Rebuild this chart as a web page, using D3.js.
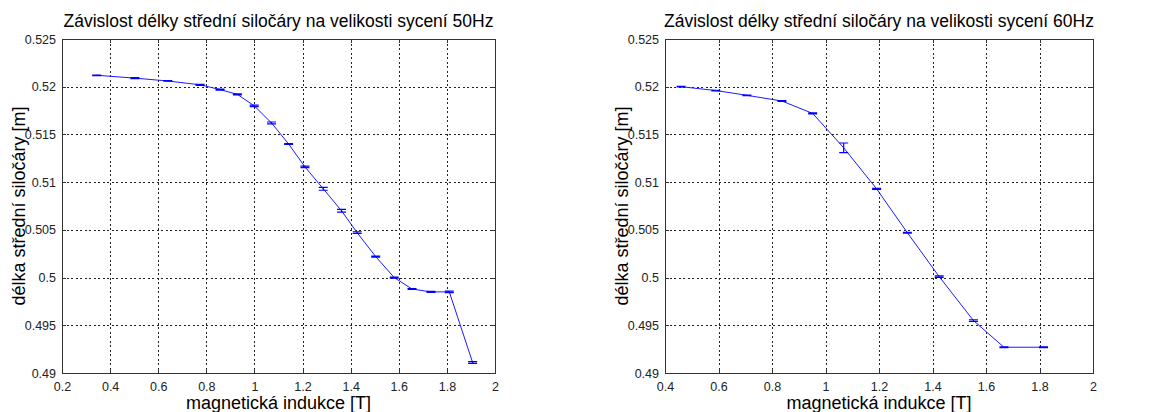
<!DOCTYPE html>
<html>
<head>
<meta charset="utf-8">
<script src="https://cdn.jsdelivr.net/npm/d3@7"></script>
<style>
  body { margin: 0; background: #fff; }
  svg { display: block; }
</style>
</head>
<body>
<script>
// DATA - 50 Hz
var indukce50 = [0.344, 0.503, 0.640, 0.774, 0.857, 0.929, 0.999, 1.071, 1.142, 1.210, 1.286, 1.362, 1.427, 1.504, 1.581, 1.655, 1.734, 1.810, 1.907];
var delka50   = [0.5212, 0.5209, 0.5206, 0.5202, 0.5197, 0.5192, 0.5180, 0.5162, 0.5140, 0.5116, 0.5093, 0.5070, 0.5047, 0.5022, 0.5000, 0.4988, 0.4985, 0.4985, 0.4911];
var chyba50   = [0.00003, 0.00005, 0.00003, 0.00005, 0.00005, 0.00005, 0.00008, 0.0001, 0.00005, 0.00008, 0.00015, 0.00015, 0.00008, 0.00005, 0.00005, 0.00005, 0.00005, 0.00008, 0.0001];

// DATA - 60 Hz
var indukce60 = [0.460, 0.590, 0.706, 0.837, 0.952, 1.068, 1.191, 1.306, 1.425, 1.553, 1.667, 1.815];
var delka60   = [0.5200, 0.5196, 0.5191, 0.5185, 0.5172, 0.5136, 0.5093, 0.5047, 0.5001, 0.4955, 0.4927, 0.4927];
var chyba60   = [0.00003, 0.00003, 0.00003, 0.00005, 0.00005, 0.0005, 0.00005, 0.00005, 0.00008, 0.00008, 0.00005, 0.00005];

// TICKS
var xTicks50 = [0.2, 0.4, 0.6, 0.8, 1, 1.2, 1.4, 1.6, 1.8, 2];
var xTicks60 = [0.4, 0.6, 0.8, 1, 1.2, 1.4, 1.6, 1.8, 2];
var yTicks = [0.49, 0.495, 0.5, 0.505, 0.51, 0.515, 0.52, 0.525];

var titles = ["Závislost délky střední siločáry na velikosti sycení 50Hz",
              "Závislost délky střední siločáry na velikosti sycení 60Hz"];
var xLabel = "magnetická indukce [T]";
var yLabel = "délka střední siločáry [m]";

//SVG VARIABLES
var width = 1163, height = 412;
var font = "'Liberation Sans', Arial, sans-serif";
var svg = d3.select("body").append("svg")
    .attr("width", width)
    .attr("height", height);

function drawPanel(left, right, xDomain, xTicks, xs, ys, es, title) {
  var top = 39, bottom = 373;
  var x = d3.scaleLinear().domain(xDomain).range([left, right]);
  var y = d3.scaleLinear().domain([0.49, 0.525]).range([bottom, top]);
  var g = svg.append("g");

  // grid
  var grid = g.append("g").attr("stroke", "#222").attr("stroke-width", 1)
      .attr("stroke-dasharray", "2,2.5").attr("shape-rendering", "crispEdges");
  grid.selectAll("line.vx").data(xTicks.slice(1, -1)).enter().append("line")
      .attr("x1", function(d){ return Math.round(x(d)) + 0.5; })
      .attr("x2", function(d){ return Math.round(x(d)) + 0.5; })
      .attr("y1", top).attr("y2", bottom);
  grid.selectAll("line.hy").data(yTicks.slice(1, -1)).enter().append("line")
      .attr("y1", function(d){ return Math.round(y(d)) + 0.5; })
      .attr("y2", function(d){ return Math.round(y(d)) + 0.5; })
      .attr("x1", left).attr("x2", right);

  // axes (MATLAB style: ticks inside, on all sides)
  var fmt = function(d){ return String(+d.toFixed(3)); };
  var axB = g.append("g").attr("transform", "translate(0," + bottom + ")")
      .call(d3.axisBottom(x).tickValues(xTicks).tickSize(-4).tickPadding(9).tickFormat(fmt));
  var axT = g.append("g").attr("transform", "translate(0," + top + ")")
      .call(d3.axisTop(x).tickValues(xTicks).tickSize(-4).tickFormat(""));
  var axL = g.append("g").attr("transform", "translate(" + left + ",0)")
      .call(d3.axisLeft(y).tickValues(yTicks).tickSize(-4).tickPadding(6).tickFormat(fmt));
  var axR = g.append("g").attr("transform", "translate(" + right + ",0)")
      .call(d3.axisRight(y).tickValues(yTicks).tickSize(-4).tickFormat(""));
  [axB, axT, axL, axR].forEach(function(a){
    a.selectAll("path, line").attr("stroke", "#333").attr("shape-rendering", "crispEdges");
    a.selectAll("text").attr("font-family", font).attr("font-size", 12.5).attr("fill", "#222");
  });

  // line
  var line = d3.line().x(function(d){ return x(d[0]); }).y(function(d){ return y(d[1]); });
  var pts = xs.map(function(v, i){ return [v, ys[i], es[i]]; });
  g.append("path").datum(pts).attr("d", line)
      .attr("fill", "none").attr("stroke", "#1a1aff").attr("stroke-width", 1);

  // error bars
  var eb = g.append("g").attr("stroke", "#0000ff").attr("stroke-width", 1.2).attr("fill", "none");
  var cap = 4.5;
  eb.selectAll("path").data(pts).enter().append("path")
      .attr("d", function(d){
        var cx = x(d[0]), y1 = y(d[1] + d[2]), y2 = y(d[1] - d[2]);
        return "M" + cx + "," + y1 + "V" + y2 +
               "M" + (cx - cap) + "," + y1 + "H" + (cx + cap) +
               "M" + (cx - cap) + "," + y2 + "H" + (cx + cap);
      });

  // title & labels
  var cx = (left + right) / 2;
  g.append("text").attr("x", cx).attr("y", 27).attr("text-anchor", "middle")
      .attr("font-family", font).attr("font-size", 17.5).attr("fill", "#000").text(title);
  g.append("text").attr("x", cx).attr("y", 409).attr("text-anchor", "middle")
      .attr("font-family", font).attr("font-size", 18).attr("fill", "#000").text(xLabel);
  g.append("text").attr("transform", "translate(" + (left - 37) + "," + ((top + bottom) / 2) + ") rotate(-90)")
      .attr("text-anchor", "middle")
      .attr("font-family", font).attr("font-size", 18).attr("fill", "#000").text(yLabel);
}

drawPanel(62, 495, [0.2, 2], xTicks50, indukce50, delka50, chyba50, titles[0]);
drawPanel(665, 1093, [0.4, 2], xTicks60, indukce60, delka60, chyba60, titles[1]);
</script>
</body>
</html>
